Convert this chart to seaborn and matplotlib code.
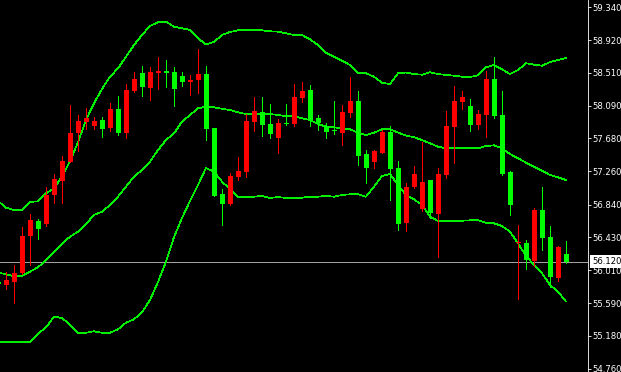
import numpy as np
import pandas as pd
import matplotlib
matplotlib.use("Agg")
import matplotlib.pyplot as plt
import matplotlib.transforms as mtransforms
import seaborn as sns

# ---- data ----
opens = [55.857, 55.827, 55.864, 55.978, 56.447, 56.629, 56.595, 56.962, 57.139, 57.383,
         57.750, 57.885, 57.838, 57.910, 57.809, 58.050, 57.746, 58.277, 58.505, 58.315,
         58.505, 58.524, 58.518, 58.467, 58.391, 58.416, 58.492, 57.809, 56.974, 56.848,
         57.189, 57.252, 57.889, 58.012, 57.860, 57.683, 57.868, 57.864, 58.192, 58.290,
         57.936, 57.834, 57.778, 57.750, 58.003, 58.151, 57.480, 57.383, 57.497, 57.759,
         57.303, 56.611, 57.063, 56.788, 57.151, 56.725, 57.218, 57.826, 58.138, 58.088,
         57.847, 57.974, 58.429, 57.974, 57.252, 56.348, 56.354, 56.126, 56.772, 56.430,
         55.911, 56.215]
highs = [55.867, 55.983, 56.072, 56.557, 56.721, 56.654, 57.059, 57.227, 57.455, 58.100,
         57.970, 58.062, 57.948, 57.948, 58.125, 58.214, 58.366, 58.518, 58.594, 58.581,
         58.707, 58.670, 58.581, 58.518, 58.480, 58.809, 58.594, 57.809, 57.037, 57.240,
         57.442, 57.986, 58.201, 58.201, 58.113, 57.923, 58.113, 58.366, 58.391, 58.353,
         57.974, 57.872, 58.151, 58.100, 58.454, 58.277, 57.535, 57.535, 57.784, 57.834,
         57.392, 57.113, 57.328, 57.632, 57.151, 57.303, 58.024, 58.341, 58.277, 58.176,
         58.037, 58.530, 58.707, 58.277, 57.265, 56.582, 56.392, 56.797, 57.059, 56.569,
         56.316, 56.380]
lows = [55.823, 55.768, 55.591, 55.968, 56.072, 56.409, 56.573, 56.860, 56.860, 57.379,
        57.518, 57.797, 57.797, 57.695, 57.771, 57.721, 57.683, 58.265, 58.214, 58.163,
        58.303, 58.328, 58.088, 58.341, 58.227, 58.246, 57.657, 56.943, 56.582, 56.835,
        57.151, 57.189, 57.771, 57.708, 57.683, 57.493, 57.847, 57.838, 58.142, 57.838,
        57.788, 57.686, 57.733, 57.598, 57.952, 57.345, 57.117, 57.307, 57.493, 56.902,
        56.522, 56.510, 57.050, 56.763, 56.674, 56.181, 57.180, 57.370, 58.050, 57.775,
        57.797, 57.695, 57.936, 57.215, 56.708, 55.649, 56.025, 56.063, 56.266, 55.798,
        55.873, 56.101]
closes = [55.832, 55.886, 55.975, 56.443, 56.645, 56.531, 56.958, 57.164, 57.392, 57.746,
          57.894, 57.940, 57.898, 57.797, 58.050, 57.746, 58.290, 58.429, 58.328, 58.518,
          58.524, 58.505, 58.303, 58.391, 58.416, 58.492, 57.797, 56.955, 56.848, 57.202,
          57.265, 57.898, 58.024, 57.847, 57.733, 57.872, 57.860, 58.201, 58.277, 57.914,
          57.872, 57.762, 57.771, 58.012, 58.151, 57.459, 57.307, 57.518, 57.759, 57.294,
          56.598, 57.063, 57.227, 57.126, 56.734, 57.227, 57.834, 58.151, 58.201, 57.851,
          57.986, 58.429, 57.961, 57.227, 56.835, 56.360, 56.139, 56.772, 56.417, 55.924,
          56.304, 56.120]
upper_band = [56.886, 56.801, 56.772, 56.772, 56.873, 56.882, 56.983, 57.046, 57.193, 57.388,
              57.628, 57.910, 58.122, 58.303, 58.458, 58.564, 58.711, 58.859, 58.986, 59.100,
              59.146, 59.154, 59.091, 59.071, 59.049, 58.944, 58.866, 58.897, 58.986, 59.024,
              59.045, 59.045, 59.045, 59.045, 59.033, 59.028, 59.007, 58.986, 58.986, 58.931,
              58.859, 58.762, 58.711, 58.661, 58.606, 58.509, 58.501, 58.458, 58.382, 58.366,
              58.501, 58.511, 58.492, 58.483, 58.514, 58.492, 58.480, 58.471, 58.458, 58.454,
              58.476, 58.577, 58.606, 58.552, 58.492, 58.543, 58.628, 58.610, 58.597, 58.644,
              58.670, 58.695]
middle_band = [55.981, 55.958, 55.933, 55.937, 55.991, 56.047, 56.135, 56.244, 56.345, 56.434,
               56.497, 56.595, 56.708, 56.750, 56.835, 56.940, 57.067, 57.193, 57.278, 57.383,
               57.531, 57.657, 57.742, 57.889, 57.974, 58.058, 58.079, 58.071, 58.053, 58.037,
               58.008, 57.986, 57.986, 57.986, 57.986, 57.974, 57.957, 57.957, 57.932, 57.910,
               57.860, 57.826, 57.818, 57.805, 57.793, 57.750, 57.721, 57.750, 57.793, 57.793,
               57.752, 57.714, 57.692, 57.657, 57.616, 57.573, 57.552, 57.552, 57.552, 57.552,
               57.552, 57.581, 57.590, 57.552, 57.480, 57.426, 57.370, 57.320, 57.269, 57.215,
               57.185, 57.151]
lower_band = [55.102, 55.102, 55.102, 55.102, 55.102, 55.209, 55.285, 55.422, 55.405, 55.321,
              55.219, 55.219, 55.237, 55.219, 55.219, 55.262, 55.346, 55.389, 55.477, 55.633,
              55.861, 56.120, 56.430, 56.670, 56.886, 57.088, 57.303, 57.256, 57.130, 57.034,
              56.940, 56.940, 56.940, 56.949, 56.923, 56.936, 56.923, 56.927, 56.927, 56.940,
              56.940, 56.949, 56.940, 56.962, 56.970, 56.970, 56.940, 57.067, 57.202, 57.227,
              57.088, 56.962, 56.907, 56.835, 56.687, 56.633, 56.633, 56.633, 56.636, 56.641,
              56.641, 56.611, 56.603, 56.569, 56.497, 56.350, 56.190, 56.076, 55.971, 55.823,
              55.738, 55.612]
price_ticks = [59.340, 58.920, 58.510, 58.090, 57.680, 57.260,
               56.840, 56.430, 56.010, 55.590, 55.180, 54.760]
last_price = 56.120

# ---- styling ----
sns.set_style("dark", rc={"axes.facecolor": "black", "figure.facecolor": "black",
                          "axes.grid": False})
plt.rcParams['font.family'] = ['DejaVu Sans']

UP = '#ff0000'
DOWN = '#00ff00'
BAND = '#00ee00'
LW = 0.5

W, H = 621, 372
fig = plt.figure(figsize=(W / 100, H / 100), dpi=100)
fig.patch.set_facecolor('black')
ax = fig.add_axes([0, 0, 588 / W, 1])
ax.set_facecolor('black')

o = np.array(opens); c = np.array(closes)
hi = np.array(highs); lo = np.array(lows)
idx = np.arange(len(o))
ylo, yhi = 54.722, 59.4286
px = (yhi - ylo) / H
colors = [UP if cc > oo else DOWN for oo, cc in zip(o, c)]

# bands through seaborn
df = pd.DataFrame({"i": idx, "upper": upper_band, "middle": middle_band, "lower": lower_band})
for col in ["upper", "middle", "lower"]:
    sns.lineplot(data=df, x="i", y=col, ax=ax, color=BAND, linewidth=LW,
                 antialiased=False, legend=False, zorder=2)

# current price line
ax.axhline(last_price, color='#a0a0a0', linewidth=LW, antialiased=False, zorder=1.5)

# candles
ax.vlines(idx, lo, hi, colors=colors, linewidth=LW, antialiased=False, zorder=3)
body_bottom = np.minimum(o, c)
body_h = np.maximum(np.abs(c - o), px)
ax.bar(idx, body_h, bottom=body_bottom, width=0.625, color=colors,
       linewidth=0, antialiased=False, zorder=4)

ax.set_xlim(0.25, 73.75)
ax.set_ylim(ylo, yhi)
ax.set_xlabel(""); ax.set_ylabel("")
ax.set_xticks([])

ax.yaxis.tick_right()
ax.set_yticks(price_ticks)
ax.set_yticklabels([f"{v:.3f}" for v in price_ticks])
ax.tick_params(axis='y', which='both', right=True, left=False, colors='white',
               labelcolor='white', labelsize=6.1, length=2.2, width=0.6, pad=1.3,
               direction='out')

for s in ['left', 'top', 'bottom']:
    ax.spines[s].set_visible(False)
ax.spines['right'].set_visible(True)
ax.spines['right'].set_color('white')
ax.spines['right'].set_linewidth(0.6)

# current price label box
trans = mtransforms.blended_transform_factory(ax.transAxes, ax.transData)
ax.text(1.0 + 4 / 588, last_price, f"{last_price:.3f}", transform=trans,
        ha='left', va='center', color='black', fontsize=6.1, zorder=10, clip_on=False,
        bbox=dict(boxstyle='square,pad=0.2', fc='white', ec='none'))

fig.savefig("out.png", dpi=100, facecolor='black')
